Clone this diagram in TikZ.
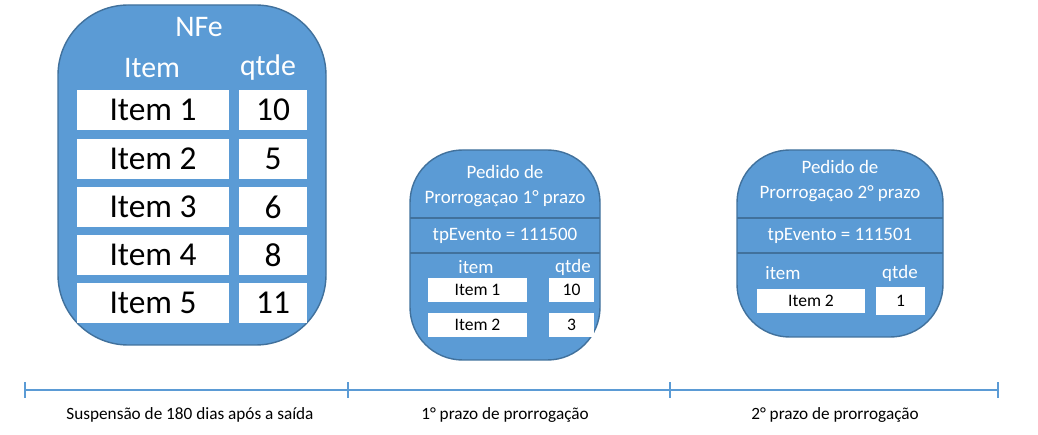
\documentclass[tikz,border=0pt]{standalone}
\usepackage{fontspec}
\setmainfont{Carlito}
\usetikzlibrary{positioning}
\definecolor{boxblue}{HTML}{5B9BD5}
\definecolor{boxedge}{HTML}{41719C}
\tikzset{
  panel/.style={draw=boxedge,fill=boxblue,line width=0.8pt,rounded corners=#1},
  cell/.style={fill=white,inner sep=0pt,font=\fontsize{19}{20}\selectfont},
  smallcell/.style={fill=white,inner sep=0pt,font=\fontsize{10}{11}\selectfont},
  head/.style={text=white,font=\fontsize{17}{18}\selectfont},
  smallhead/.style={text=white,font=\fontsize{10.8}{14}\selectfont},
  tick/.style={boxblue,line width=1pt},
  span/.style={font=\fontsize{9.8}{11}\selectfont},
}
\begin{document}
\begin{tikzpicture}[x=0.02cm,y=-0.02cm]
        \useasboundingbox (0,0) rectangle (1038,435);

        % NFe panel
        \draw[panel=40] (58,5) rectangle (326,345);
        \node[head] (nfe) at (199,27) {NFe};
        \node[head] (nfeitem) at (152,68) {Item};
        \node[head] (nfeqtde) at (268,68) {qtde};
        \foreach \i/\q/\y in {1/10/110,2/5/159,3/6/207,4/8/255,5/11/303} {
            \node[cell,minimum width=3.04cm,minimum height=0.8cm] (nfei\i) at (153,\y) {Item \i};
            \node[cell,minimum width=1.36cm,minimum height=0.8cm] (nfeq\i) at (273,\y) {\q};
        }

        % first extension request
        \draw[panel=30] (410,150) rectangle (600,360);
        \draw[boxedge,line width=0.8pt] (410,218) -- (600,218);
        \draw[boxedge,line width=0.8pt] (410,253) -- (600,253);
        \node[smallhead,align=center] (req1) at (505,186) {Pedido de\\Prorrogaçao 1° prazo};
        \node[smallhead] (ev1) at (505,236) {tpEvento = 111500};
        \node[smallhead] (req1item) at (476,267) {item};
        \node[smallhead] (req1qtde) at (573,267) {qtde};
        \node[smallcell,minimum width=1.98cm,minimum height=0.48cm] (req1i1) at (477.5,290) {Item 1};
        \node[smallcell,minimum width=0.9cm,minimum height=0.48cm] (req1q1) at (571.5,290) {10};
        \node[smallcell,minimum width=1.98cm,minimum height=0.48cm] (req1i2) at (477.5,325) {Item 2};
        \node[smallcell,minimum width=0.9cm,minimum height=0.48cm] (req1q2) at (571.5,325) {3};

        % second extension request
        \draw[panel=30] (737,150) rectangle (943,337);
        \draw[boxedge,line width=0.8pt] (737,218) -- (943,218);
        \draw[boxedge,line width=0.8pt] (737,253) -- (943,253);
        \node[smallhead,align=center] (req2) at (840,181) {Pedido de\\Prorrogaçao 2° prazo};
        \node[smallhead] (ev2) at (840,236) {tpEvento = 111501};
        \node[smallhead] (req2item) at (783,273) {item};
        \node[smallhead] (req2qtde) at (900,273) {qtde};
        \node[smallcell,minimum width=2.16cm,minimum height=0.48cm] (req2i2) at (811,301) {Item 2};
        \node[smallcell,minimum width=0.98cm,minimum height=0.56cm] (req2q2) at (900.5,301) {1};

        % timeline
        \coordinate (t0) at (25,390);
        \coordinate (t1) at (348,390);
        \coordinate (t2) at (670,390);
        \coordinate (t3) at (998,390);
        \draw[tick] (t0) -- (t3);
        \foreach \t in {t0,t1,t2,t3}
            \draw[tick] ([yshift=0.16cm]\t) -- ([yshift=-0.16cm]\t);
        \node[span] (span0) at (190,415) {Suspensão de 180 dias após a saída};
        \node[span] (span1) at (505,415) {1° prazo de prorrogação};
        \node[span] (span2) at (835,415) {2° prazo de prorrogação};
\end{tikzpicture}
\end{document}
